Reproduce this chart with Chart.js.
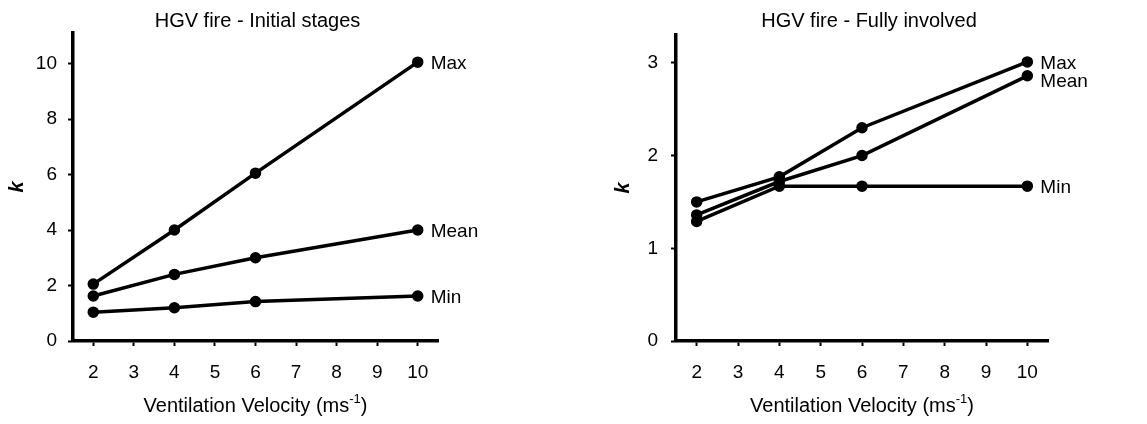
<!DOCTYPE html>
<html>
<head>
<meta charset="utf-8">
<script src="https://cdn.jsdelivr.net/npm/chart.js@4"></script>
<style>
  body { margin: 0; background: #fff; }
  #wrap { position: relative; width: 1147px; height: 424px; }
  canvas { position: absolute; top: 0; }
</style>
</head>
<body>
<div id="wrap">
  <canvas id="chart-initial" width="573" height="424" style="left:0"></canvas>
  <canvas id="chart-fully" width="574" height="424" style="left:573px"></canvas>
</div>
<script>
// k values vs ventilation velocity, two fire stages
const velocidades = [2, 4, 6, 10];
const nombresSeries = ['Max', 'Mean', 'Min'];

const inicialMax = [2.05, 4.0, 6.05, 10.05];
const inicialMean = [1.62, 2.4, 3.0, 4.0];
const inicialMin = [1.04, 1.2, 1.42, 1.62];

const completoMax = [1.5, 1.77, 2.3, 3.01];
const completoMean = [1.36, 1.72, 2.0, 2.86];
const completoMin = [1.29, 1.67, 1.67, 1.67];

const ticksX = [2, 3, 4, 5, 6, 7, 8, 9, 10];
const ticksInicialY = [0, 2, 4, 6, 8, 10];
const ticksCompletoY = [0, 1, 2, 3];

const FUENTE = '"Liberation Sans", Arial, Helvetica, sans-serif';
const NEGRO = '#000';

// titulos, ejes y etiquetas al final de cada linea
const textoGrafico = {
    id: 'textoGrafico',
    afterDraw(chart, args, opts) {
        const { ctx, chartArea } = chart;
        const cx = (chartArea.left + chartArea.right) / 2;
        ctx.save();
        ctx.fillStyle = NEGRO;

        // titulo
        ctx.font = `20px ${FUENTE}`;
        ctx.textAlign = 'center';
        ctx.textBaseline = 'alphabetic';
        ctx.fillText(opts.titulo, cx + (opts.tituloDx || 0), 27);

        // eje x con superindice
        const base = 'Ventilation Velocity (ms';
        const w1 = ctx.measureText(base).width;
        const w3 = ctx.measureText(')').width;
        ctx.font = `13px ${FUENTE}`;
        const w2 = ctx.measureText('-1').width;
        let x0 = cx - (w1 + w2 + w3) / 2;
        ctx.textAlign = 'left';
        ctx.font = `20px ${FUENTE}`;
        ctx.fillText(base, x0, 412);
        ctx.font = `13px ${FUENTE}`;
        ctx.fillText('-1', x0 + w1, 403);
        ctx.font = `20px ${FUENTE}`;
        ctx.fillText(')', x0 + w1 + w2, 412);

        // etiquetas de series
        ctx.font = `19px ${FUENTE}`;
        chart.data.datasets.forEach((ds, i) => {
            const meta = chart.getDatasetMeta(i);
            const p = meta.data[meta.data.length - 1];
            ctx.fillText(ds.label, p.x + 13, p.y + 7 + (opts.ajustes[i] || 0));
        });

        // eje y: k
        ctx.translate(chartArea.left - opts.kDx, (chartArea.top + chartArea.bottom) / 2);
        ctx.rotate(-Math.PI / 2);
        ctx.font = `italic bold 20px ${FUENTE}`;
        ctx.textAlign = 'center';
        ctx.textBaseline = 'middle';
        ctx.fillText('k', 0, 0);
        ctx.restore();
    }
};

function crearGrafico(id, cfg) {
    const datasets = cfg.series.map((vals, i) => ({
        label: nombresSeries[i],
        data: velocidades.map((x, j) => ({ x, y: vals[j] })),
        borderColor: NEGRO,
        backgroundColor: NEGRO,
        borderWidth: 3.5,
        pointRadius: 5,
        pointBorderWidth: 1.5,
        pointBackgroundColor: NEGRO,
        pointBorderColor: NEGRO,
        tension: 0
    }));

    const ejeComun = {
        grid: { drawOnChartArea: false, drawTicks: true, tickLength: 5, tickWidth: 2, tickColor: NEGRO },
        border: { display: true, width: 3.5, color: NEGRO }
    };

    return new Chart(document.getElementById(id), {
        type: 'line',
        data: { datasets },
        options: {
            responsive: false,
            animation: false,
            layout: { padding: { left: 0, right: cfg.derecha, top: cfg.arriba, bottom: 0 } },
            plugins: {
                legend: { display: false },
                tooltip: { enabled: false },
                textoGrafico: { titulo: cfg.titulo, tituloDx: cfg.tituloDx, ajustes: cfg.ajustes, kDx: cfg.kDx }
            },
            scales: {
                x: {
                    ...ejeComun,
                    type: 'linear',
                    min: 1.5,
                    max: 10.5,
                    ticks: { maxRotation: 0, autoSkip: false, padding: 15, color: NEGRO, font: { family: FUENTE, size: 19 } },
                    afterBuildTicks: s => { s.ticks = ticksX.map(v => ({ value: v })); },
                    afterFit: s => { s.height = 83; }
                },
                y: {
                    ...ejeComun,
                    min: 0,
                    max: cfg.yMax,
                    ticks: { autoSkip: false, padding: cfg.yPad, color: NEGRO, font: { family: FUENTE, size: 19 } },
                    afterBuildTicks: s => { s.ticks = cfg.ticksY.map(v => ({ value: v })); },
                    afterFit: s => { s.width = cfg.izquierda; }
                }
            }
        },
        plugins: [textoGrafico]
    });
}

crearGrafico('chart-initial', {
    titulo: 'HGV fire - Initial stages',
    tituloDx: 2,
    series: [inicialMax, inicialMean, inicialMin],
    ajustes: [0, 0, 0],
    ticksY: ticksInicialY,
    yMax: 11.1,
    yPad: 11,
    izquierda: 73,
    derecha: 135,
    arriba: 33,
    kDx: 56
});

crearGrafico('chart-fully', {
    titulo: 'HGV fire - Fully involved',
    tituloDx: 7,
    series: [completoMax, completoMean, completoMin],
    ajustes: [0, 4, 0],
    ticksY: ticksCompletoY,
    yMax: 3.3,
    yPad: 13,
    izquierda: 103,
    derecha: 99,
    arriba: 35,
    kDx: 53
});
</script>
</body>
</html>
